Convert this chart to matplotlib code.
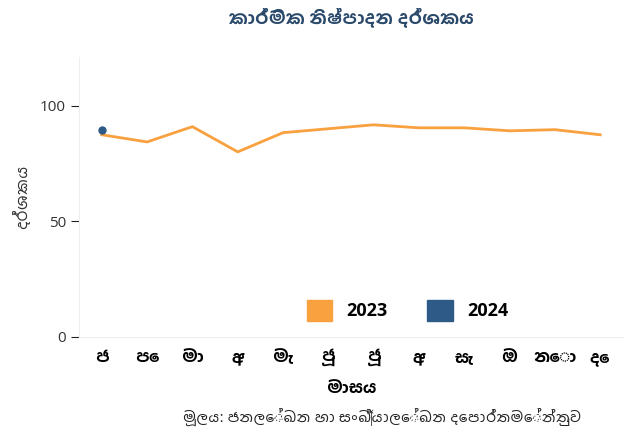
import matplotlib
matplotlib.use("Agg")
import matplotlib.pyplot as plt
from matplotlib.patches import Patch

# Mass (Sinhala month abbreviations)
masa = ["ජ", "පෙ", "මා", "අ", "මැ", "ජූ", "ජූ", "අ", "සැ", "ඔ", "නො", "දෙ"]

# Index values
vals_2023 = [87.4, 84.3, 90.9, 80.0, 88.3, 90.0, 91.7, 90.4, 90.4, 89.1, 89.6, 87.4]
vals_2024 = [89.6]

c2023 = "#f9a03f"
c2024 = "#2e5a87"

# Latin (spaces, colon) from Open Sans, Sinhala falls through to Hind Colombo
fams = ["Open Sans", "Hind Colombo", "DejaVu Sans"]
plt.rcParams["font.family"] = ["Open Sans", "DejaVu Sans"]

fig = plt.figure(figsize=(6.33, 4.32), dpi=100)
ax = fig.add_axes([0.125, 0.22, 0.859, 0.648])

x = list(range(len(masa)))
ax.plot(x, vals_2023, color=c2023, linewidth=2)
ax.plot(x[:len(vals_2024)], vals_2024, "o", color=c2024, markersize=5)

ax.set_xlim(-0.5, 11.5)
ax.set_ylim(0, 121)
ax.set_yticks([0, 50, 100])
ax.set_xticks(x)
ax.set_xticklabels(masa, fontsize=12, fontweight="bold", family=fams)

for s in ["top", "right"]:
    ax.spines[s].set_visible(False)
ax.spines["left"].set_color("#eeeeee")
ax.spines["bottom"].set_color("#eeeeee")
ax.tick_params(axis="y", length=6, color="#222222", labelsize=11, labelcolor="#333333")
ax.tick_params(axis="x", length=0, pad=8)

ax.set_ylabel("දර්ශකය", fontsize=12, color="#333333", family=fams, labelpad=6)
ax.set_xlabel("මාසය", fontsize=12, fontweight="bold", labelpad=9, family=fams)

fig.text(0.555, 0.96, "කාර්මික නිෂ්පාදන දර්ශකය", ha="center", va="center",
         fontsize=13, fontweight="bold", color="#2b4a6b", family=fams)
fig.text(0.604, 0.035, "මූලය: ජනලේඛන හා සංඛ්‍යාලේඛන දෙපාර්තමේන්තුව",
         ha="center", va="center", fontsize=11, color="#222222", family=fams)

handles = [Patch(color=c2023, label="2023"), Patch(color=c2024, label="2024")]
ax.legend(handles=handles, loc="lower center", bbox_to_anchor=(0.604, 0.0), ncol=2,
          frameon=False, handlelength=1.4, handleheight=1.4, columnspacing=2.2,
          prop={"weight": "bold", "size": 13})

fig.savefig("out.png", dpi=100)
